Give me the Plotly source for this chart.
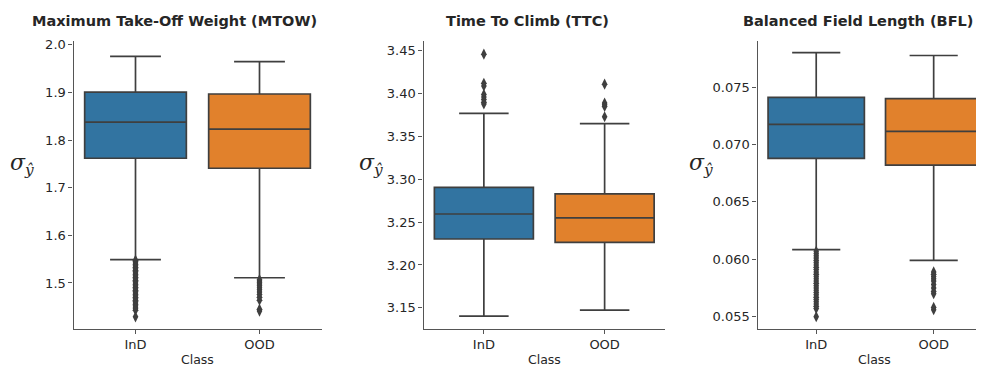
import plotly.graph_objects as go

# page body has an 8px margin; figure sized to fit inside the window
OFF = 8
W, H = 976, 365

categories = ["InD", "OOD"]
titles = ["Maximum Take-Off Weight (MTOW)", "Time To Climb (TTC)", "Balanced Field Length (BFL)"]

# box statistics per panel: [InD, OOD]
mtow_q1 = [1.762, 1.741]
mtow_med = [1.838, 1.823]
mtow_q3 = [1.901, 1.897]
mtow_lo = [1.549, 1.511]
mtow_hi = [1.976, 1.965]
mtow_out_ind = [1.548, 1.545, 1.542, 1.539, 1.536, 1.533, 1.530, 1.527, 1.524, 1.521, 1.518,
                1.515, 1.512, 1.509, 1.506, 1.503, 1.500, 1.497, 1.494, 1.491, 1.488, 1.485,
                1.482, 1.479, 1.476, 1.473, 1.470, 1.467, 1.464, 1.461, 1.458, 1.455, 1.452,
                1.449, 1.446, 1.443, 1.429]
mtow_out_ood = [1.507, 1.504, 1.501, 1.498, 1.494, 1.490, 1.486, 1.481, 1.476, 1.470, 1.464,
                1.445, 1.441]

ttc_q1 = [3.2303, 3.2264]
ttc_med = [3.2595, 3.2549]
ttc_q3 = [3.2906, 3.2829]
ttc_lo = [3.1404, 3.1473]
ttc_hi = [3.377, 3.365]
ttc_out_ind = [3.446, 3.412, 3.409, 3.399, 3.396, 3.393, 3.390, 3.388]
ttc_out_ood = [3.411, 3.389, 3.387, 3.385, 3.373]

bfl_q1 = [0.06879, 0.06821]
bfl_med = [0.07175, 0.07115]
bfl_q3 = [0.07411, 0.07400]
bfl_lo = [0.06084, 0.05990]
bfl_hi = [0.07802, 0.07776]
bfl_out_ind = [0.0607, 0.0605, 0.0603, 0.0601, 0.0599, 0.0597, 0.0595, 0.0593, 0.0591, 0.0589,
               0.0587, 0.0585, 0.0583, 0.0581, 0.0579, 0.0577, 0.0575, 0.0573, 0.0571, 0.0569,
               0.0567, 0.0565, 0.0563, 0.0561, 0.0559, 0.0557, 0.0550]
bfl_out_ood = [0.0589, 0.0587, 0.0585, 0.0583, 0.0581, 0.0578, 0.0575, 0.0572, 0.0570,
               0.0558, 0.0556]

y_tickvals = [
    [1.5, 1.6, 1.7, 1.8, 1.9, 2.0],
    [3.15, 3.20, 3.25, 3.30, 3.35, 3.40, 3.45],
    [0.055, 0.060, 0.065, 0.070, 0.075],
]
y_tickfmt = [".1f", ".2f", ".3f"]
y_ranges = [[1.4038, 2.0079], [3.1255, 3.4612], [0.05394, 0.07901]]

colors = ["#3274a1", "#e1812c"]
edge = "#3f3f3f"
text_col = "#262626"

panels = [
    (mtow_q1, mtow_med, mtow_q3, mtow_lo, mtow_hi, mtow_out_ind, mtow_out_ood),
    (ttc_q1, ttc_med, ttc_q3, ttc_lo, ttc_hi, ttc_out_ind, ttc_out_ood),
    (bfl_q1, bfl_med, bfl_q3, bfl_lo, bfl_hi, bfl_out_ind, bfl_out_ood),
]

# screen-pixel layout (converted to figure coords by subtracting OFF)
x_px = [(73.5, 321.5), (423.5, 665.0), (757.5, 983.0)]
x_ranges = [[-0.5, 1.5], [-0.5, 1.5], [-0.5, 1.42]]
y_top_px, y_bot_px = 37.5, 328.3
title_cx = [174.5, 527.5, 858.0]
ylab_cx = [22, 371, 701]


def px_x(v):
    return (v - OFF) / W


def px_y(v):
    return 1 - (v - OFF) / H


fig = go.Figure()
layout = {}
annotations = []
for i, (q1, med, q3, lo, hi, oi, oo) in enumerate(panels):
    n = "" if i == 0 else str(i + 1)
    xa, ya = "x" + n, "y" + n
    for j, cat in enumerate(categories):
        fig.add_trace(go.Box(
            x=[cat], q1=[q1[j]], median=[med[j]], q3=[q3[j]],
            lowerfence=[lo[j]], upperfence=[hi[j]],
            fillcolor=colors[j], line=dict(color=edge, width=1.7),
            width=0.82, whiskerwidth=0.5, boxpoints=False,
            xaxis=xa, yaxis=ya, showlegend=False, hoverinfo="skip",
        ))
    for cat, vals in zip(categories, [oi, oo]):
        fig.add_trace(go.Scatter(
            x=[cat] * len(vals), y=vals, mode="markers",
            marker=dict(symbol="diamond-tall", size=8, color=edge, line=dict(width=0)),
            xaxis=xa, yaxis=ya, showlegend=False, hoverinfo="skip",
        ))
    axis_common = dict(showline=True, linecolor="#555555", linewidth=1.2, ticks="outside",
                       ticklen=4, tickcolor="#555555", tickwidth=1.2, showgrid=False,
                       zeroline=False, tickfont=dict(family="DejaVu Sans", size=13, color=text_col))
    layout["xaxis" + n] = dict(
        domain=[px_x(x_px[i][0]), px_x(x_px[i][1])], anchor=ya, range=x_ranges[i],
        type="category", categoryorder="array", categoryarray=categories,
        **axis_common,
    )
    layout["yaxis" + n] = dict(
        domain=[px_y(y_bot_px), px_y(y_top_px)], anchor=xa, range=y_ranges[i],
        tickvals=y_tickvals[i], tickformat=y_tickfmt[i], **axis_common,
    )
    r0, r1 = x_ranges[i]
    mid_px = x_px[i][0] + (0.5 - r0) / (r1 - r0) * (x_px[i][1] - x_px[i][0])
    annotations.append(dict(
        text="<b>" + titles[i] + "</b>", x=px_x(title_cx[i]), y=px_y(17),
        xref="paper", yref="paper", showarrow=False, xanchor="center", yanchor="middle",
        font=dict(family="DejaVu Sans", size=14.5, color=text_col),
    ))
    annotations.append(dict(
        text="Class", x=px_x(mid_px), y=px_y(359), xref="paper", yref="paper",
        showarrow=False, xanchor="center", yanchor="middle",
        font=dict(family="DejaVu Sans", size=12.5, color=text_col),
    ))
    annotations.append(dict(
        text="<i>σ</i><sub><i>ŷ</i></sub>", x=px_x(ylab_cx[i]), y=px_y(162),
        xref="paper", yref="paper", showarrow=False, xanchor="center", yanchor="middle",
        font=dict(family="DejaVu Serif", size=22, color=text_col),
    ))

fig.update_layout(
    width=W, height=H, margin=dict(l=0, r=0, t=0, b=0),
    paper_bgcolor="white", plot_bgcolor="white",
    annotations=annotations, **layout,
)
fig.write_html("out.html")
